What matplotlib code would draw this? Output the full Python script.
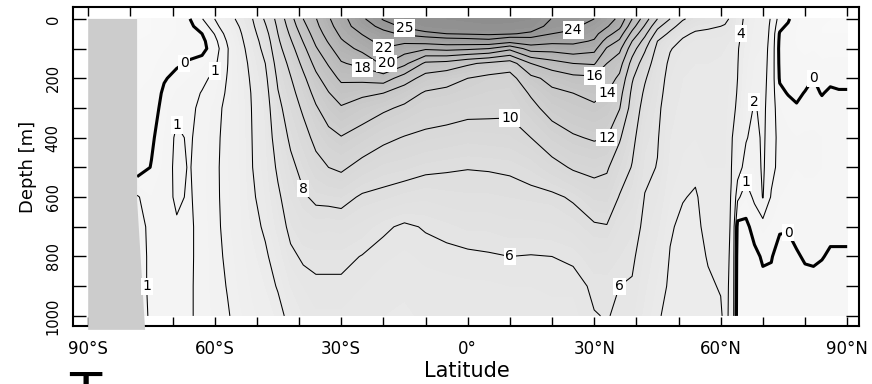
import numpy as np
import matplotlib
matplotlib.use("Agg")
import matplotlib.pyplot as plt
from matplotlib.colors import LinearSegmentedColormap
from matplotlib.patches import Polygon

# Zonal-mean temperature section (deg C): latitude columns, depth rows
lats = [-78.4, -75, -72, -69, -66, -63, -60, -57, -54, -51, -48, -45, -42, -39,
        -36, -33, -30, -25, -20, -15, -10, -5, 0, 5, 10, 15, 20, 25, 30, 33,
        36, 39, 42, 45, 48, 51, 54, 57, 60, 61, 62.5, 64, 66, 68, 70, 72, 74,
        76, 78, 80, 82, 84, 86, 88, 90]
depths = [0, 25, 50, 75, 100, 150, 200, 250, 300, 400, 500, 600, 700, 800, 900, 1000]

# one temperature profile per latitude, values at the depths above
temperature_profiles = [
    [-1.6, -1.6, -1.6, -1.5, -1.5, -1.4, -1.2, -1.0, -0.8, -0.6, -0.5, 1.1, 1.3, 1.3, 1.3, 1.3],
    [-1.5, -1.5, -1.5, -1.4, -1.4, -1.3, -1.0, -0.7, -0.5, -0.15, 0.05, 0.5, 0.8, 0.85, 0.85, 0.9],
    [-1.3, -1.3, -1.3, -1.2, -1.1, -0.6, -0.1, 0.2, 0.35, 0.5, 0.6, 0.65, 0.7, 0.75, 0.75, 0.8],
    [-1.0, -1.0, -1.0, -0.9, -0.7, -0.15, 0.3, 0.55, 0.8, 1.15, 1.2, 1.15, 0.9, 0.85, 0.8, 0.8],
    [-0.05, -0.2, -0.3, -0.35, -0.3, 0.1, 0.5, 0.7, 0.8, 0.9, 0.95, 0.9, 0.85, 0.85, 0.85, 0.85],
    [0.95, 0.4, 0.0, -0.25, -0.3, 0.35, 0.8, 1.05, 1.2, 1.3, 1.35, 1.35, 1.3, 1.3, 1.35, 1.35],
    [2.0, 1.6, 1.05, 0.7, 0.5, 0.8, 1.2, 1.4, 1.6, 1.7, 1.75, 1.75, 1.7, 1.65, 1.6, 1.55],
    [3.2, 2.8, 2.4, 2.1, 1.9, 1.95, 2.05, 2.15, 2.3, 2.4, 2.45, 2.4, 2.35, 2.2, 2.05, 1.9],
    [4.5, 4.1, 3.8, 3.6, 3.4, 3.25, 3.15, 3.1, 3.05, 3.0, 3.0, 2.95, 2.9, 2.75, 2.6, 2.4],
    [6.0, 5.7, 5.4, 5.1, 4.9, 4.5, 4.3, 4.15, 4.1, 4.05, 4.0, 3.85, 3.6, 3.35, 3.1, 2.9],
    [8.3, 7.8, 7.3, 6.9, 6.6, 6.0, 5.6, 5.3, 5.1, 4.9, 4.7, 4.5, 4.2, 3.8, 3.5, 3.2],
    [10.6, 10.3, 10.0, 9.7, 9.4, 8.8, 8.3, 7.9, 7.5, 6.9, 6.3, 5.7, 5.2, 4.6, 4.1, 3.6],
    [13.3, 12.8, 12.3, 11.8, 11.3, 10.5, 9.9, 9.4, 9.0, 8.3, 7.6, 7.0, 6.4, 5.7, 5.0, 4.4],
    [16.0, 15.4, 14.7, 14.1, 13.5, 12.5, 11.6, 10.9, 10.3, 9.3, 8.5, 7.8, 7.0, 6.2, 5.5, 5.0],
    [17.9, 17.5, 17.0, 16.4, 15.8, 14.6, 13.5, 12.6, 11.8, 10.5, 9.4, 8.3, 7.2, 6.3, 5.8, 5.4],
    [19.8, 19.4, 18.8, 18.2, 17.5, 16.2, 15.0, 13.9, 13.0, 11.4, 10.0, 8.4, 7.1, 6.3, 5.8, 5.4],
    [21.2, 20.9, 20.4, 19.8, 19.2, 17.8, 16.4, 15.0, 13.8, 11.9, 10.3, 8.5, 7.2, 6.3, 5.8, 5.4],
    [23.8, 23.2, 22.1, 21.3, 20.5, 18.6, 16.6, 14.4, 13.0, 11.2, 9.4, 7.8, 6.8, 5.95, 5.5, 5.2],
    [25.1, 24.5, 23.5, 22.7, 21.9, 20.3, 17.0, 14.0, 12.3, 10.4, 8.8, 7.6, 6.2, 5.6, 5.2, 5.0],
    [25.5, 25.2, 24.3, 22.5, 20.9, 18.5, 15.0, 12.8, 11.7, 9.9, 8.6, 7.3, 5.8, 5.4, 5.1, 4.9],
    [25.8, 25.5, 24.8, 22.9, 20.3, 15.6, 13.2, 11.8, 11.0, 9.6, 8.3, 7.1, 6.1, 5.6, 5.3, 5.1],
    [26.0, 25.7, 25.0, 23.3, 20.6, 15.3, 12.6, 11.6, 10.8, 9.4, 8.15, 7.3, 6.35, 5.7, 5.35, 5.15],
    [26.1, 25.8, 25.1, 23.4, 20.4, 14.3, 12.0, 11.2, 10.5, 9.2, 8.05, 7.4, 6.6, 5.8, 5.4, 5.2],
    [26.2, 25.9, 25.2, 23.6, 20.0, 13.6, 11.5, 10.9, 10.4, 9.3, 8.1, 7.4, 6.6, 5.9, 5.4, 5.2],
    [26.2, 25.8, 25.1, 22.8, 18.5, 13.0, 11.3, 10.8, 10.3, 9.4, 8.2, 7.5, 6.8, 6.0, 5.5, 5.2],
    [26.0, 25.6, 24.8, 23.2, 20.9, 16.0, 13.5, 12.2, 11.5, 10.0, 8.6, 7.6, 6.8, 5.95, 5.5, 5.2],
    [24.95, 24.6, 24.0, 22.6, 20.8, 17.2, 14.6, 13.6, 12.7, 11.1, 9.4, 7.7, 6.9, 6.0, 5.6, 5.3],
    [24.7, 24.3, 23.7, 22.5, 21.2, 18.0, 15.4, 14.0, 13.3, 11.8, 10.2, 8.2, 7.2, 6.2, 5.6, 5.3],
    [24.0, 23.3, 22.6, 21.8, 20.6, 18.2, 15.6, 14.5, 13.7, 12.2, 10.5, 9.1, 7.8, 6.9, 6.2, 5.95],
    [23.0, 22.2, 20.8, 19.2, 17.8, 16.0, 15.0, 14.0, 13.3, 12.0, 10.2, 9.2, 7.9, 6.8, 6.3, 6.05],
    [21.5, 20.5, 19.0, 17.7, 16.5, 14.8, 13.6, 12.7, 12.1, 10.2, 9.0, 7.9, 7.0, 6.5, 6.0, 5.85],
    [18.0, 16.8, 15.4, 14.0, 12.9, 11.3, 10.2, 9.6, 9.2, 8.5, 7.9, 7.2, 6.6, 6.2, 5.9, 5.6],
    [15.0, 13.8, 12.5, 11.3, 10.3, 9.0, 8.2, 7.7, 7.3, 6.7, 6.3, 5.95, 5.7, 5.4, 5.1, 4.8],
    [12.0, 10.5, 9.2, 8.0, 7.5, 7.0, 6.7, 6.5, 6.3, 6.1, 5.95, 5.5, 5.1, 4.7, 4.4, 4.1],
    [10.0, 8.7, 7.6, 6.6, 6.1, 5.7, 5.5, 5.35, 5.2, 5.0, 4.8, 4.5, 4.1, 3.95, 3.85, 3.75],
    [8.2, 7.2, 6.3, 5.8, 5.5, 5.2, 5.0, 4.9, 4.8, 4.6, 4.4, 4.05, 3.8, 3.7, 3.6, 3.5],
    [7.3, 6.4, 5.8, 5.4, 5.2, 5.0, 4.9, 4.8, 4.7, 4.5, 4.2, 3.9, 3.8, 3.75, 3.7, 3.65],
    [6.9, 6.2, 5.7, 5.4, 5.2, 5.0, 4.9, 4.8, 4.7, 4.6, 4.5, 4.4, 4.25, 4.05, 3.9, 3.8],
    [6.5, 6.0, 5.6, 5.3, 5.1, 4.9, 4.8, 4.7, 4.65, 4.6, 4.5, 4.45, 4.35, 4.2, 4.05, 3.9],
    [6.3, 5.9, 5.5, 5.2, 5.0, 4.85, 4.75, 4.7, 4.65, 4.55, 4.5, 4.45, 4.4, 4.3, 4.25, 4.2],
    [5.8, 5.5, 5.2, 4.9, 4.7, 4.5, 4.4, 4.3, 4.2, 4.1, 4.05, 3.95, 3.9, 3.85, 3.8, 3.8],
    [4.6, 4.5, 4.3, 4.2, 4.1, 4.05, 4.0, 3.95, 3.9, 3.5, 2.6, 1.2, -0.3, -0.6, -0.7, -0.8],
    [3.7, 3.6, 3.5, 3.4, 3.3, 3.1, 3.0, 2.8, 2.5, 2.1, 1.5, 0.5, -0.2, -0.5, -0.6, -0.7],
    [3.0, 2.9, 2.8, 2.7, 2.6, 2.45, 2.3, 2.15, 1.9, 1.6, 1.5, 1.2, 0.3, -0.2, -0.5, -0.6],
    [2.6, 2.6, 2.55, 2.5, 2.45, 2.4, 2.35, 2.3, 2.25, 2.2, 2.15, 2.05, 0.6, 0.1, -0.2, -0.3],
    [1.9, 1.8, 1.75, 1.7, 1.65, 1.6, 1.55, 1.5, 1.45, 1.4, 1.3, 0.9, 0.4, 0.05, -0.2, -0.3],
    [0.6, 0.3, -0.1, -0.2, -0.25, -0.2, -0.1, 0.2, 0.5, 0.7, 0.7, 0.5, 0.1, -0.3, -0.4, -0.4],
    [0.2, -0.2, -0.5, -0.6, -0.6, -0.5, -0.3, -0.05, 0.3, 0.6, 0.6, 0.4, 0.05, -0.2, -0.3, -0.3],
    [-0.9, -1.0, -1.1, -1.1, -1.0, -0.8, -0.5, -0.2, 0.1, 0.5, 0.5, 0.35, 0.15, -0.05, -0.2, -0.3],
    [-1.2, -1.3, -1.3, -1.3, -1.2, -0.8, -0.3, 0.05, 0.3, 0.55, 0.55, 0.4, 0.2, 0.05, -0.15, -0.2],
    [-1.3, -1.4, -1.4, -1.3, -1.1, -0.5, 0.0, 0.2, 0.35, 0.55, 0.55, 0.4, 0.2, 0.05, -0.1, -0.2],
    [-1.4, -1.5, -1.5, -1.4, -1.3, -0.9, -0.5, -0.05, 0.25, 0.5, 0.5, 0.35, 0.15, 0.02, -0.15, -0.2],
    [-1.5, -1.5, -1.5, -1.4, -1.3, -0.8, -0.2, 0.15, 0.3, 0.5, 0.45, 0.3, 0.1, -0.05, -0.15, -0.2],
    [-1.5, -1.5, -1.5, -1.4, -1.3, -0.8, -0.3, 0.1, 0.3, 0.5, 0.45, 0.3, 0.1, -0.05, -0.15, -0.2],
    [-1.5, -1.5, -1.5, -1.4, -1.3, -0.8, -0.3, 0.1, 0.3, 0.5, 0.45, 0.3, 0.1, -0.05, -0.15, -0.2],
]

contour_levels = [0, 1, 2, 4, 6, 8, 10, 12, 14, 16, 18, 20, 22, 24, 25]
lat_ticks = [-90, -60, -30, 0, 30, 60, 90]
lat_tick_labels = ["90°S", "60°S", "30°S", "0°", "30°N", "60°N", "90°N"]
depth_ticks = [0, 200, 400, 600, 800, 1000]

# contour labels: (level, lat, depth)
label_spots = [(0, -65.3, 172), (1, -60.6, 178), (1, -68.9, 334), (1, -76.0, 890),
               (8, -38.5, 562), (6, 12.4, 822), (6, 37.3, 896), (10, 8.4, 347),
               (12, 32.1, 424), (14, 32.6, 283), (16, 31.4, 178), (18, -25.0, 178),
               (20, -19.1, 162), (22, -20.8, 94), (25, -12.9, 37), (24, 23.6, 44),
               (4, 65.1, 54), (2, 68.2, 290), (1, 66.3, 515), (0, 81.7, 172),
               (0, 76.5, 710)]

# Antarctic land outline (lat, depth)
land_outline = [(-90, 0), (-78.4, 0), (-78.4, 610), (-76.5, 1047), (-90, 1047)]

# grey shade at given temperatures
shade_temps = [-2, 1, 3, 5, 7, 9, 11, 15, 19, 23, 27]
shade_greys = [0.975, 0.955, 0.935, 0.91, 0.885, 0.86, 0.83, 0.77, 0.71, 0.635, 0.54]

temp = np.array(temperature_profiles).T

W, H = 872, 384
fig = plt.figure(figsize=(W / 100, H / 100), dpi=100)
ax = fig.add_axes([73 / W, 1 - 326 / H, (859 - 73) / W, (326 - 7) / H])
ax.set_xlim(-93.6, 92.8)
ax.set_ylim(1034, -40)

t0, t1 = shade_temps[0], shade_temps[-1]
shade = LinearSegmentedColormap.from_list(
    "shade", [((t - t0) / (t1 - t0), (g, g, g)) for t, g in zip(shade_temps, shade_greys)])
ax.contourf(lats, depths, temp, levels=np.arange(-2, 27.01, 0.5), cmap=shade,
            vmin=t0, vmax=t1, extend="both", zorder=1)

widths = [2.2 if lv == 0 else 0.75 for lv in contour_levels]
cs = ax.contour(lats, depths, temp, levels=contour_levels, colors="black",
                linewidths=widths, zorder=2)

# put each label on the nearest point of its own contour level
for lv, la, de in label_spots:
    segs = [s for s in cs.allsegs[contour_levels.index(lv)] if len(s)]
    pts = np.concatenate(segs)
    disp = ax.transData.transform(pts)
    target = ax.transData.transform((la, de))
    k = np.argmin(((disp - target) ** 2).sum(axis=1))
    ax.text(pts[k, 0], pts[k, 1], f"{lv}", ha="center", va="center",
            fontsize=10, family="DejaVu Sans", zorder=4,
            bbox=dict(boxstyle="square,pad=0.12", fc="white", ec="none"))

ax.add_patch(Polygon(land_outline, closed=True, fc=(0.8, 0.8, 0.8), ec="none",
                     zorder=3, clip_on=False))

ax.set_xticks(lat_ticks)
ax.set_xticklabels(lat_tick_labels)
ax.set_xticks(np.arange(-90, 91, 10), minor=True)
ax.set_yticks(depth_ticks)
ax.set_yticklabels([str(d) for d in depth_ticks], rotation=90, va="center")
ax.set_yticks(np.arange(0, 1001, 100), minor=True)
ax.tick_params(which="both", direction="in", top=True, right=True, width=1.0)
ax.tick_params(axis="x", which="both", length=6.5)
ax.tick_params(axis="y", which="both", length=9.5)
ax.tick_params(axis="x", which="major", labelsize=12, pad=10)
ax.tick_params(axis="y", which="major", labelsize=10.5, pad=9)
for s in ax.spines.values():
    s.set_linewidth(1.5)

fig.text(467 / W, 1 - 371 / H, "Latitude", ha="center", va="center", fontsize=15)
fig.text(28 / W, 1 - 167 / H, "Depth [m]", ha="center", va="center",
         rotation=90, fontsize=13)
fig.text(85 / W, 1 - 369 / H, "T", ha="center", va="top", fontsize=38)

fig.savefig("out.png", dpi=100)
